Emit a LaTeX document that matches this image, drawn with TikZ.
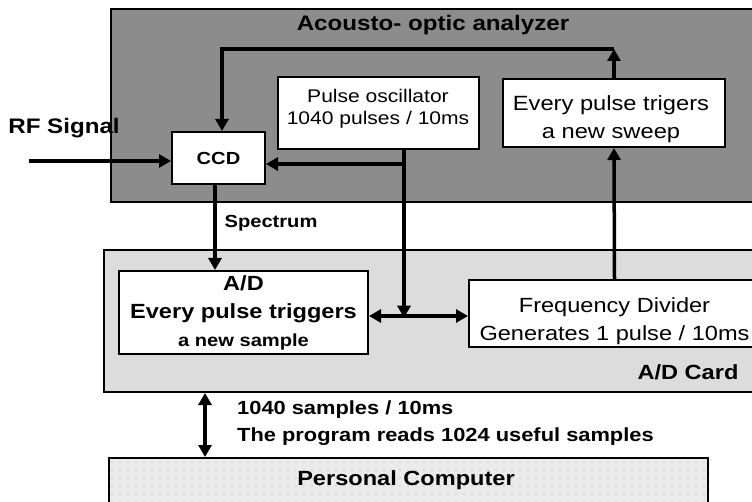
\documentclass[tikz,border=0pt]{standalone}
\usepackage{fontspec}
\setmainfont{Liberation Sans}[FakeStretch=1.15]
\usetikzlibrary{arrows.meta,patterns.meta}
\definecolor{anagray}{HTML}{8C8C8C}
\definecolor{cardgray}{HTML}{DCDCDC}
\definecolor{pcgray}{HTML}{EBEBEB}
\newcommand{\fsz}[2]{\fontsize{#1}{#2}\selectfont}
\tikzset{
  region/.style={draw=black, line width=2pt, inner sep=0pt},
  blk/.style={draw=black, line width=2pt, fill=white, inner sep=0pt, align=center},
  txt/.style={inner sep=0pt, align=center},
  conn/.style={line width=3.5pt, -{Triangle[length=12pt,width=13pt]}},
  conn2/.style={line width=3.5pt, {Triangle[length=12pt,width=13pt]}-{Triangle[length=12pt,width=13pt]}},
  lbl/.style={inner sep=0pt, font=\bfseries\fsz{17.5}{22}},
}
\begin{document}
\begin{tikzpicture}[x=1pt,y=-1pt]
\useasboundingbox (0,0) rectangle (752,502);
\clip (0,0) rectangle (752,502);

% enclosing units
\node[region, fill=anagray, minimum width=649, minimum height=193] (ana) at (435.5,105.5) {};
\node[txt, font=\bfseries\fsz{21}{24}] (anatitle) at (433,25) {Acousto- optic analyzer};
\node[region, fill=cardgray, minimum width=666, minimum height=142] (card) at (437,321) {};
\node[txt, font=\bfseries\fsz{20.5}{24}] (cardtitle) at (688,372) {A/D Card};
\node[region, fill=pcgray, minimum width=599, minimum height=62] (pc) at (408.5,489) {};
\fill[pattern={Dots[distance=8pt,radius=0.55pt]}, pattern color=gray!70] ([shift={(2,-2)}]pc.north west) rectangle (706,520);
\node[txt, font=\bfseries\fsz{20.5}{24}] (pctitle) at (406,480) {Personal Computer};

% blocks
\node[blk, font=\bfseries\fsz{17.5}{22}, minimum width=93, minimum height=52] (ccd) at (218.5,158) {CCD};
\node[blk, font=\fsz{18.3}{22}, minimum width=201, minimum height=72] (pulse) at (378.5,113) {};
\node[txt, font=\fsz{18.3}{22}] (pulsetxt) at (378,109) {Pulse oscillator\\1040 pulses / 10ms};
\node[blk, minimum width=222, minimum height=68] (sweep) at (614,113) {};
\node[txt, font=\fsz{20.6}{28}] (sweeptxt) at (611,119) {Every pulse trigers\\a new sweep};
\node[blk, font=\bfseries\fsz{20.5}{28}, minimum width=249, minimum height=83] (adc) at (243.5,312.5) {A/D\\Every pulse triggers\\{\fsz{17.5}{28}a new sample}};
\node[blk, minimum width=291, minimum height=67] (freq) at (614.5,313.5) {};
\node[txt, font=\fsz{20.5}{28}] (freqtxt) at (614.5,321) {Frequency Divider\\Generates 1 pulse / 10ms};

% free labels
\node[txt, font=\bfseries\fsz{21}{24}] (rflbl) at (64,128) {RF Signal};
\node[lbl] (speclbl) at (271,223) {Spectrum};
\node[txt, anchor=west, font=\bfseries\fsz{19}{24}] (rate1) at (237,410) {1040 samples / 10ms};
\node[txt, anchor=west, font=\bfseries\fsz{19}{24}] (rate2) at (237,437) {The program reads 1024 useful samples};

% junction points
\coordinate (rfin) at (29,161);
\coordinate (fbl) at (222,49);
\coordinate (ptap) at (404,164);
\coordinate (hbus) at (404,316);
\coordinate (spx) at (215,0);
\coordinate (pcx) at (205,0);

% connectors
\draw[conn, line width=4.5pt] (rfin) -- (rfin -| ccd.west);
\draw[conn] (sweep.north) -- (sweep.north |- fbl);
\draw[conn] (sweep.north |- fbl) -- (fbl) -- (fbl |- ccd.north);
\draw[conn] (ptap |- pulse.south) -- (ptap) -- (ptap -| ccd.east);
\draw[conn] (ptap) -- ([yshift=-1.75pt]hbus);
\draw[conn2] (hbus -| adc.east) -- (hbus -| freq.west);
\draw[conn] (freq.north) -- (sweep.south);
\draw[conn] (spx |- ccd.south) -- (spx |- adc.north);
\draw[conn2] (pcx |- card.south) -- (pcx |- pc.north);
\end{tikzpicture}
\end{document}
